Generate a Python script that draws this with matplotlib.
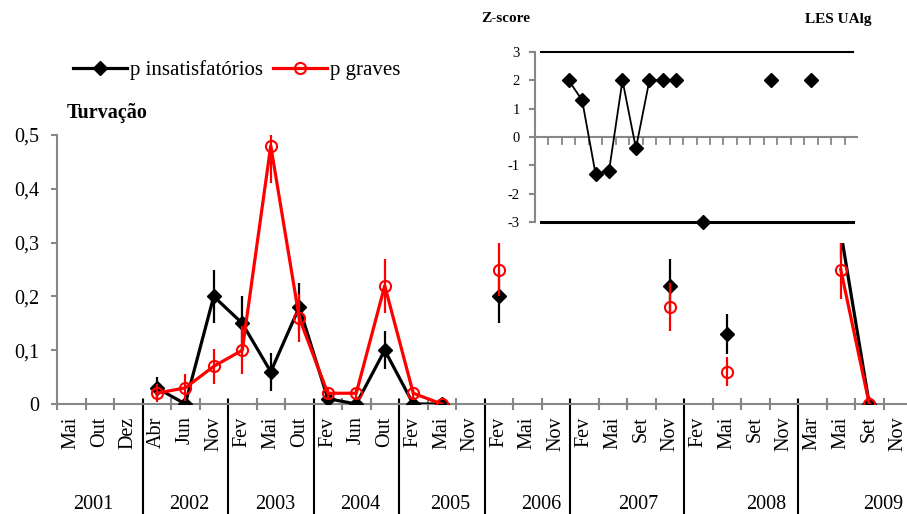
import numpy as np
import matplotlib
matplotlib.use('Agg')
import matplotlib.pyplot as plt
from matplotlib.patches import Rectangle
from matplotlib.transforms import blended_transform_factory

plt.rcParams['font.family'] = ['Liberation Serif', 'DejaVu Serif']
plt.rcParams['axes.unicode_minus'] = False

nan = np.nan

# categories (months) and year groups
months = ['Mai', 'Out', 'Dez', 'Abr', 'Jun', 'Nov', 'Fev', 'Mai', 'Out', 'Fev',
          'Jun', 'Out', 'Fev', 'Mai', 'Nov', 'Fev', 'Mai', 'Nov', 'Fev', 'Mai',
          'Set', 'Nov', 'Fev', 'Mai', 'Set', 'Nov', 'Mar', 'Mai', 'Set', 'Nov']
years = ['2001', '2002', '2003', '2004', '2005', '2006', '2007', '2008', '2009']
year_sizes = [3, 3, 3, 3, 3, 3, 4, 4, 4]

# p insatisfatorios (black) and error
p_insat = [nan, nan, nan, 0.03, 0.00, 0.20, 0.15, 0.06, 0.18, 0.01,
           0.00, 0.10, 0.00, 0.00, nan, 0.20, nan, nan, nan, nan,
           nan, 0.22, nan, 0.13, nan, nan, nan, 0.32, 0.00, nan]
e_insat = [0, 0, 0, 0.02, 0.0, 0.05, 0.05, 0.035, 0.045, 0.0,
           0.0, 0.035, 0.0, 0.0, 0, 0.05, 0, 0, 0, 0,
           0, 0.05, 0, 0.037, 0, 0, 0, 0.05, 0.0, 0]

# p graves (red) and error
p_graves = [nan, nan, nan, 0.02, 0.03, 0.07, 0.10, 0.48, 0.16, 0.02,
            0.02, 0.22, 0.02, 0.00, nan, 0.25, nan, nan, nan, nan,
            nan, 0.18, nan, 0.06, nan, nan, nan, 0.25, 0.00, nan]
e_graves = [0, 0, 0, 0.017, 0.025, 0.032, 0.045, 0.07, 0.045, 0.01,
            0.01, 0.05, 0.01, 0.0, 0, 0.05, 0, 0, 0, 0,
            0, 0.045, 0, 0.027, 0, 0, 0, 0.055, 0.0, 0]

# inset z-scores (24 categories)
zscore = [nan, nan, 2, 1.3, -1.3, -1.2, 2, -0.4, 2, 2, 2, nan,
          -3, nan, nan, nan, nan, 2, nan, nan, 2, nan, nan, nan]

gray = '#878787'
W, H = 907, 514
fig = plt.figure(figsize=(W / 100, H / 100), dpi=100)

# ---- main axes
ax = fig.add_axes([57 / W, 110 / H, 855 / W, 269 / H])
x = np.arange(len(months))
ax.errorbar(x, p_insat, yerr=e_insat, fmt='none', ecolor='black', elinewidth=1.6, capsize=0, zorder=2)
ax.plot(x, p_insat, color='black', lw=2.3, marker='D', ms=7, label='p insatisfatórios', zorder=3)
ax.errorbar(x, p_graves, yerr=e_graves, fmt='none', ecolor='red', elinewidth=1.6, capsize=0, zorder=4)
ax.plot(x, p_graves, color='red', lw=2.3, marker='o', ms=8, mfc='none', mec='red', mew=1.5,
        label='p graves', zorder=5)

ax.set_xlim(-0.5, len(months) - 0.5)
ax.set_ylim(0, 0.5)
for s in ['top', 'right']:
    ax.spines[s].set_visible(False)
for s in ['left', 'bottom']:
    ax.spines[s].set_color(gray)
    ax.spines[s].set_linewidth(1.5)

yt = [0, 0.1, 0.2, 0.3, 0.4, 0.5]
ax.set_yticks(yt)
ax.set_yticklabels(['0'] + [('%.1f' % v).replace('.', ',') for v in yt[1:]], fontsize=14.5)
ax.tick_params(axis='y', direction='out', length=4, width=1.5, color=gray, pad=9)

ax.set_xticks(x)
ax.set_xticklabels(months, rotation=90, fontsize=14.5)
ax.tick_params(axis='x', which='major', length=0, pad=9)
ax.set_xticks(np.arange(-0.5, len(months), 1), minor=True)
ax.tick_params(axis='x', which='minor', direction='inout', length=9, width=1.5, color=gray)

# year separators and labels
trans = blended_transform_factory(ax.transData, ax.transAxes)
bounds = np.cumsum(year_sizes)[:-1] - 0.5
for b in bounds:
    ax.plot([b, b], [0.015, -0.43], color='black', lw=1.5, transform=trans, clip_on=False)
year_pos = [0.76, 4.13, 7.15, 10.13, 13.3, 16.5, 19.9, 24.4, 28.5]
for yr, px in zip(years, year_pos):
    ax.text(px, -0.375, yr, transform=trans, ha='center', va='center', fontsize=14.5)

fig.text(67 / W, 1 - 113 / H, 'Turvação', fontsize=14.5, fontweight='bold', va='center')

fig.legend(loc='center left', bbox_to_anchor=(73 / W, 1 - 70 / H), ncol=2, frameon=False,
           fontsize=15, handlelength=2.6, handletextpad=0.15, columnspacing=0.45,
           borderpad=0, borderaxespad=0)

# white area behind the inset chart
fig.add_artist(Rectangle((470 / W, 1 - 243 / H), 415 / W, 243 / H, transform=fig.transFigure,
                         facecolor='white', edgecolor='none', zorder=1))

# ---- inset z-score
ax2 = fig.add_axes([535 / W, 292 / H, 323 / W, 170 / H], zorder=2)
xi = np.arange(len(zscore))
ax2.plot(xi, zscore, color='black', lw=1.3, marker='D', ms=7.5, zorder=3, clip_on=False)
ax2.axhline(3, xmin=6 / 323, xmax=318 / 323, color='black', lw=1.5, clip_on=False)
ax2.axhline(-3, xmin=6 / 323, xmax=318 / 323, color='black', lw=2.2, clip_on=False)
ax2.axhline(0, color=gray, lw=1.5)
ax2.set_xlim(-0.5, len(zscore) - 0.5)
ax2.set_ylim(-3, 3)
for s in ['top', 'right', 'bottom']:
    ax2.spines[s].set_visible(False)
ax2.spines['left'].set_color(gray)
ax2.spines['left'].set_linewidth(1.5)
ax2.set_yticks([3, 2, 1, 0, -1, -2, -3])
ax2.tick_params(axis='y', direction='out', length=4, width=1.5, color=gray, labelsize=10.5, pad=7)
ax2.set_xticks([])
for k in np.arange(0.5, len(zscore) - 1, 1):
    ax2.plot([k, k], [0, -0.25], color=gray, lw=1.3)

fig.text(481 / W, 1 - 18 / H, 'Z-score', fontsize=11, fontweight='bold', va='center')
fig.text(805 / W, 1 - 20 / H, 'LES UAlg', fontsize=11, fontweight='bold', va='center')

fig.savefig('out.png', dpi=100)
